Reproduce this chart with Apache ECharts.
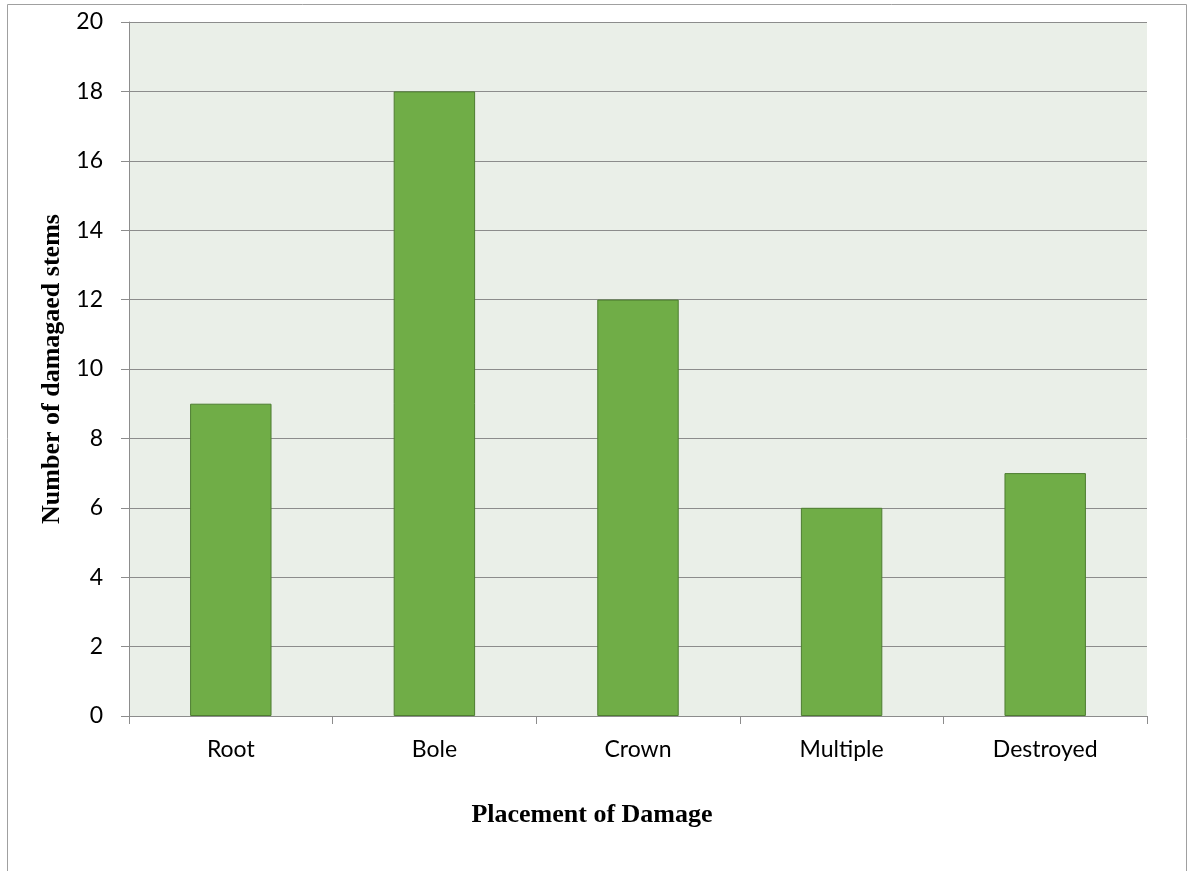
<!DOCTYPE html>
<html>
<head>
<meta charset="utf-8">
<script src="https://cdn.jsdelivr.net/npm/echarts@6/dist/echarts.min.js"></script>
<style>
  html, body { margin: 0; padding: 0; background: #fff; }
  #myChart { width: 1188px; height: 871px; }
</style>
</head>
<body>
<div id="myChart"></div>
<script>
    // 数据
    var categories = ['Root', 'Bole', 'Crown', 'Multiple', 'Destroyed'];
    var stems = [9, 18, 12, 6, 7];
    var yTicks = { min: 0, max: 20, interval: 2 };

    var myChart = echarts.init(document.getElementById('myChart'));
    myChart.setOption({
        animation: false,
        graphic: [{
            type: 'rect',
            shape: { x: 7.5, y: 4.5, width: 1179, height: 900 },
            style: { fill: 'none', stroke: '#a0a0a0', lineWidth: 1 },
            silent: true
        }],
        grid: {
            left: 129, top: 22, right: 41, bottom: 155,
            show: true,
            backgroundColor: '#eaefe8',
            borderWidth: 0
        },
        xAxis: {
            type: 'category',
            data: categories,
            name: 'Placement of Damage',
            nameLocation: 'middle',
            nameGap: 86,
            nameTextStyle: {
                fontFamily: 'Liberation Serif', fontWeight: 'bold',
                fontSize: 26, color: '#000',
                // 标题略偏左
                padding: [0, 92, 0, 0]
            },
            axisLine: { lineStyle: { color: '#8c8c8c' } },
            axisTick: { show: true, length: 8, lineStyle: { color: '#8c8c8c' } },
            axisLabel: {
                margin: 22, fontFamily: 'Lato', fontSize: 23, color: '#000'
            }
        },
        yAxis: {
            type: 'value',
            min: yTicks.min, max: yTicks.max, interval: yTicks.interval,
            name: 'Number of damagaed stems',
            nameLocation: 'middle',
            nameGap: 59,
            nameTextStyle: {
                fontFamily: 'Liberation Serif', fontWeight: 'bold',
                fontSize: 26, color: '#000'
            },
            axisLine: { show: true, lineStyle: { color: '#8c8c8c' } },
            axisTick: { show: true, length: 8, lineStyle: { color: '#8c8c8c' } },
            axisLabel: {
                margin: 26, fontFamily: 'Lato', fontSize: 23, color: '#000'
            },
            splitLine: { lineStyle: { color: '#8c8c8c', width: 1 } }
        },
        series: [{
            name: 'stems',
            type: 'bar',
            data: stems,
            barWidth: '40%',
            itemStyle: { color: '#70ad47', borderColor: '#4e7d31', borderWidth: 1 }
        }]
    });
</script>
</body>
</html>
